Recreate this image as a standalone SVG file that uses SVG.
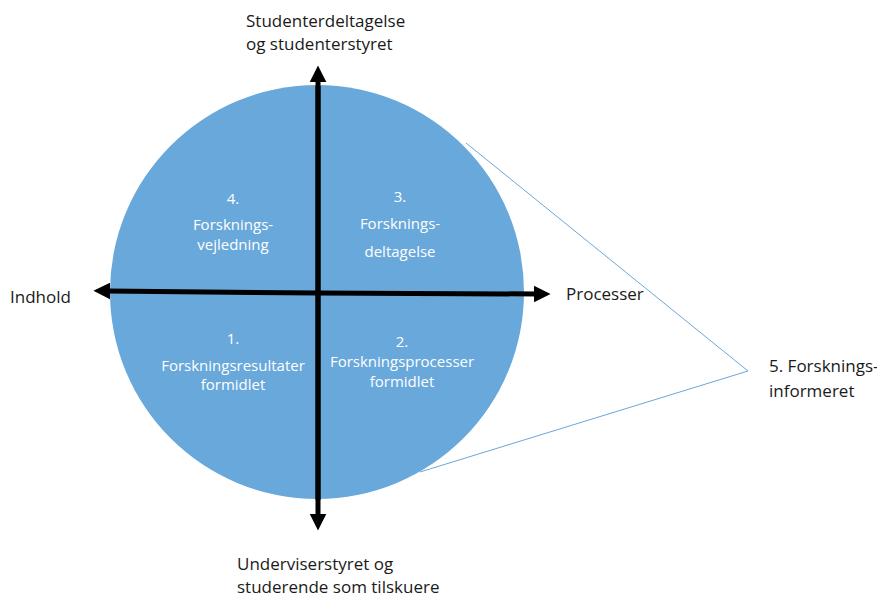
<svg xmlns="http://www.w3.org/2000/svg" width="877" height="597" viewBox="0 0 877 597">
<defs>
<style>
.lbl{font-family:"Open Sans","Liberation Sans",sans-serif;font-size:17px;fill:#1a1a1a}
.in{font-family:"Open Sans","Liberation Sans",sans-serif;font-size:15px;fill:#ffffff;text-anchor:middle}
.ax{stroke:#000;stroke-width:5;fill:none}
.cone{stroke:#6ea6d8;stroke-width:1;fill:none}
</style>
<marker id="ah" viewBox="0 0 10 10" refX="2" refY="5" markerWidth="3.4" markerHeight="3.4" orient="auto" markerUnits="strokeWidth">
<path d="M0,0 L10,5 L0,10 z" fill="#000"/>
</marker>
</defs>
<rect width="877" height="597" fill="#fff"/>
<g id="circle">
<circle cx="317" cy="292" r="207" fill="#69a8db"/>
</g>
<g id="connectors">
<path class="cone" d="M466,143 L748,371 L420,472"/>
<line class="ax" x1="318" y1="500" x2="318" y2="79" marker-end="url(#ah)"/>
<line class="ax" x1="318" y1="86" x2="318" y2="517" marker-end="url(#ah)"/>
<line class="ax" x1="318" y1="293" x2="537" y2="294" marker-end="url(#ah)"/>
<line class="ax" x1="318" y1="293" x2="107" y2="291" marker-end="url(#ah)"/>
</g>
<g id="q4">
<text class="in" x="233" y="204">4.</text>
<text class="in" x="233" y="230">Forsknings-</text>
<text class="in" x="233" y="250">vejledning</text>
</g>
<g id="q3">
<text class="in" x="400" y="202">3.</text>
<text class="in" x="400" y="229">Forsknings-</text>
<text class="in" x="400" y="257">deltagelse</text>
</g>
<g id="q1">
<text class="in" x="233" y="344">1.</text>
<text class="in" x="233" y="371">Forskningsresultater</text>
<text class="in" x="233" y="390">formidlet</text>
</g>
<g id="q2">
<text class="in" x="402" y="347">2.</text>
<text class="in" x="402" y="367">Forskningsprocesser</text>
<text class="in" x="402" y="387">formidlet</text>
</g>
<g id="top">
<text class="lbl" x="246" y="27">Studenterdeltagelse</text>
<text class="lbl" x="246" y="50">og studenterstyret</text>
</g>
<g id="bottom">
<text class="lbl" x="237" y="570">Underviserstyret og</text>
<text class="lbl" x="237" y="593">studerende som tilskuere</text>
</g>
<g id="left">
<text class="lbl" x="10" y="303">Indhold</text>
</g>
<g id="right">
<text class="lbl" x="566" y="300">Processer</text>
</g>
<g id="five">
<text class="lbl" x="769" y="372">5. Forsknings-</text>
<text class="lbl" x="769" y="397">informeret</text>
</g>
</svg>
